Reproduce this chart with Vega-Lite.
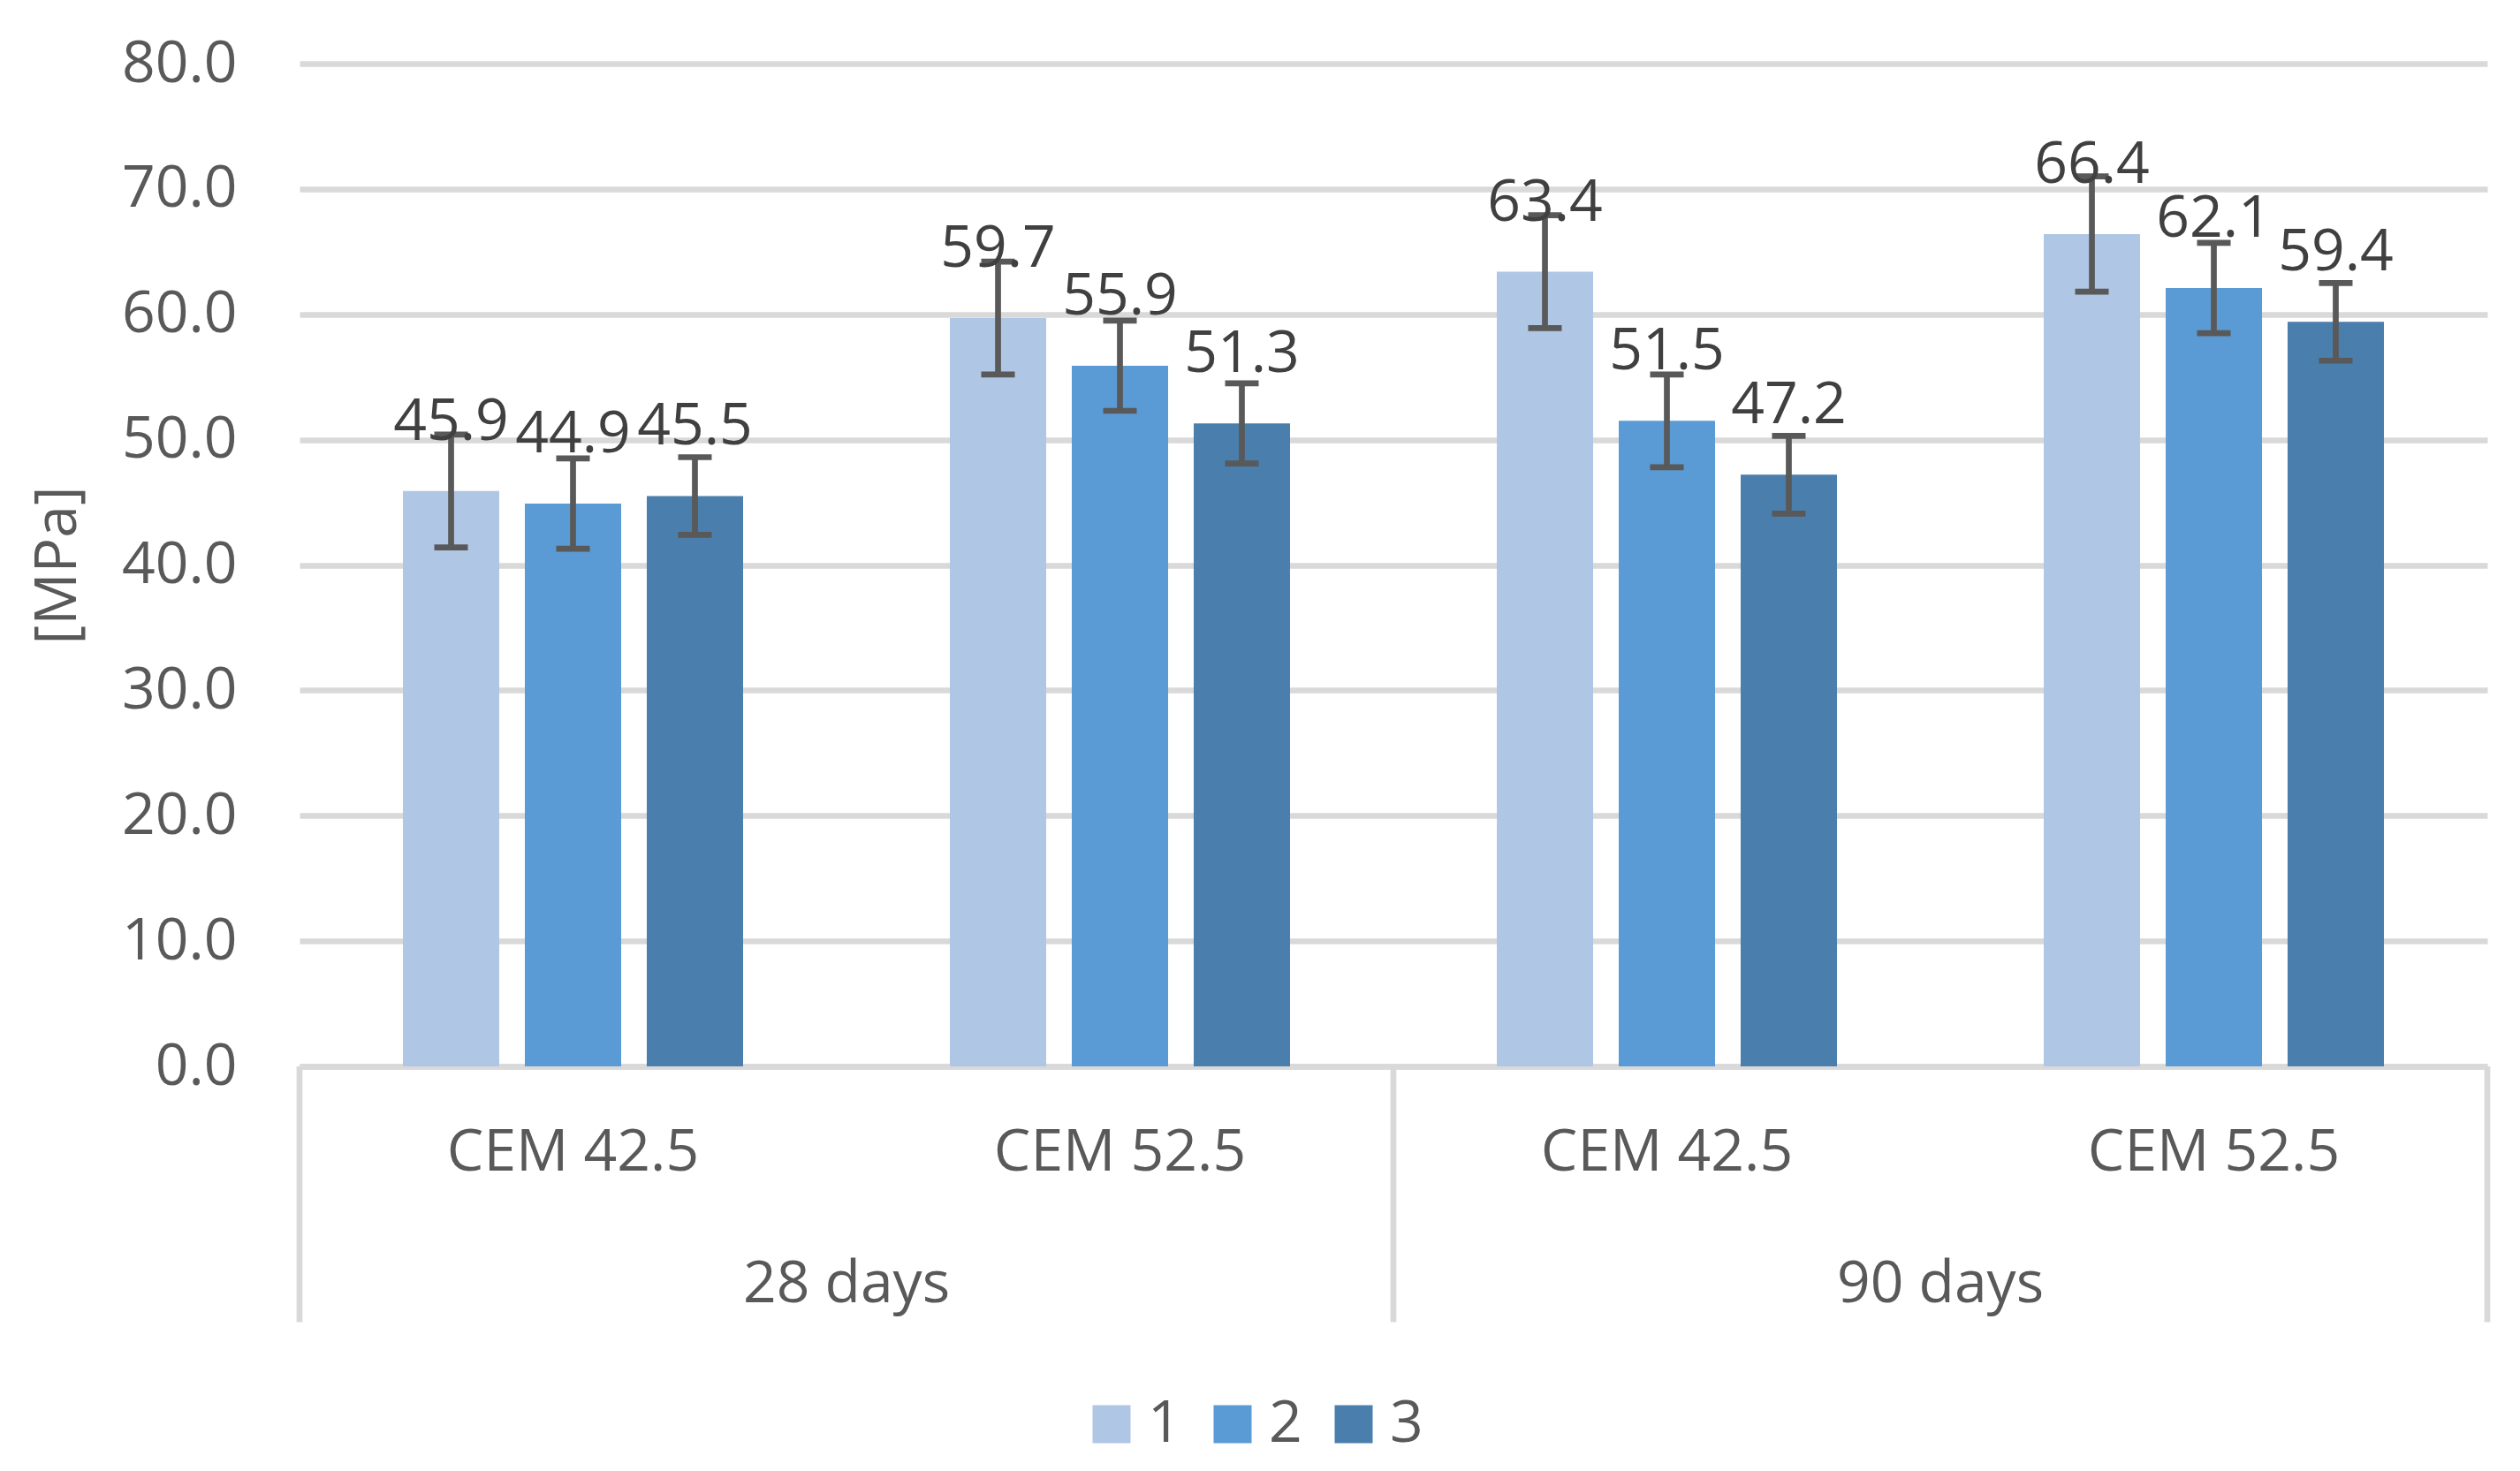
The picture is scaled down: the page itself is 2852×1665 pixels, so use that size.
{
  "$schema": "https://vega.github.io/schema/vega-lite/v6.json",
  "autosize": {"type": "none"},
  "padding": {"left": 339, "top": 72, "right": 37, "bottom": 458},
  "width": 2476,
  "height": 1135,
  "background": "white",
  "config": {
    "font": "Open Sans",
    "view": {"stroke": null}
  },
  "datasets": {
    "bars": [
      {"group": "28 days|CEM 42.5", "series": "1", "value": 45.9, "lo": 41.4, "hi": 50.4},
      {"group": "28 days|CEM 42.5", "series": "2", "value": 44.9, "lo": 41.3, "hi": 48.5},
      {"group": "28 days|CEM 42.5", "series": "3", "value": 45.5, "lo": 42.4, "hi": 48.6},
      {"group": "28 days|CEM 52.5", "series": "1", "value": 59.7, "lo": 55.2, "hi": 64.2},
      {"group": "28 days|CEM 52.5", "series": "2", "value": 55.9, "lo": 52.3, "hi": 59.5},
      {"group": "28 days|CEM 52.5", "series": "3", "value": 51.3, "lo": 48.1, "hi": 54.5},
      {"group": "90 days|CEM 42.5", "series": "1", "value": 63.4, "lo": 58.9, "hi": 67.9},
      {"group": "90 days|CEM 42.5", "series": "2", "value": 51.5, "lo": 47.8, "hi": 55.2},
      {"group": "90 days|CEM 42.5", "series": "3", "value": 47.2, "lo": 44.1, "hi": 50.3},
      {"group": "90 days|CEM 52.5", "series": "1", "value": 66.4, "lo": 61.8, "hi": 71.0},
      {"group": "90 days|CEM 52.5", "series": "2", "value": 62.1, "lo": 58.5, "hi": 65.7},
      {"group": "90 days|CEM 52.5", "series": "3", "value": 59.4, "lo": 56.3, "hi": 62.5}
    ]
  },
  "layer": [
    {
      "data": {"name": "bars"},
      "mark": {"type": "bar"},
      "encoding": {
        "x": {
          "field": "group", "type": "nominal",
          "scale": {"type": "band", "paddingInner": 0, "paddingOuter": 0,
            "domain": ["28 days|CEM 42.5", "28 days|CEM 52.5", "90 days|CEM 42.5", "90 days|CEM 52.5"]},
          "axis": {
            "title": null,
            "labelExpr": "split(datum.label, '|')[1]",
            "labelFontSize": 66, "labelColor": "#595959", "labelPadding": 65,
            "labelAngle": 0, "labelLimit": 1000,
            "ticks": false, "grid": false,
            "domain": true, "domainColor": "#d9d9d9", "domainWidth": 6.7
          }
        },
        "xOffset": {"field": "series", "type": "nominal", "scale": {"paddingInner": 0.21, "paddingOuter": 0.848}},
        "y": {
          "field": "value", "type": "quantitative",
          "scale": {"domain": [0, 80], "nice": false, "zero": true},
          "axis": {
            "title": "[MPa]",
            "titleFontSize": 66, "titleFontWeight": "normal", "titleColor": "#595959", "titlePadding": 40,
            "values": [0, 10, 20, 30, 40, 50, 60, 70, 80],
            "format": ".1f",
            "labelFontSize": 66, "labelColor": "#595959", "labelPadding": 71,
            "ticks": false, "domain": false,
            "grid": true, "gridColor": "#d9d9d9", "gridWidth": 6.5
          }
        },
        "color": {
          "field": "series", "type": "nominal",
          "scale": {"domain": ["1", "2", "3"], "range": ["#AFC6E5", "#5B9BD5", "#4A7EAD"]},
          "legend": {
            "orient": "none", "legendX": 886, "legendY": 1507, "direction": "horizontal",
            "title": null, "symbolType": "square", "symbolSize": 1849, "symbolStrokeWidth": 0,
            "symbolOpacity": 1,
            "labelFontSize": 66, "labelColor": "#595959", "labelOffset": 8, "columnPadding": 25,
            "padding": 0
          }
        }
      }
    },
    {
      "data": {"name": "bars"},
      "mark": {"type": "rule", "color": "#595959", "strokeWidth": 6.7},
      "encoding": {
        "x": {"field": "group", "type": "nominal"},
        "xOffset": {"field": "series", "type": "nominal"},
        "y": {"field": "lo", "type": "quantitative"},
        "y2": {"field": "hi"}
      }
    },
    {
      "data": {"name": "bars"},
      "mark": {"type": "tick", "color": "#595959", "size": 38, "thickness": 6.7, "orient": "horizontal", "opacity": 1},
      "encoding": {
        "x": {"field": "group", "type": "nominal"},
        "xOffset": {"field": "series", "type": "nominal"},
        "y": {"field": "lo", "type": "quantitative"}
      }
    },
    {
      "data": {"name": "bars"},
      "mark": {"type": "tick", "color": "#595959", "size": 38, "thickness": 6.7, "orient": "horizontal", "opacity": 1},
      "encoding": {
        "x": {"field": "group", "type": "nominal"},
        "xOffset": {"field": "series", "type": "nominal"},
        "y": {"field": "hi", "type": "quantitative"}
      }
    },
    {
      "data": {"name": "bars"},
      "mark": {"type": "text", "fontSize": 66, "color": "#404040", "baseline": "alphabetic", "align": "center", "dy": -58},
      "encoding": {
        "x": {"field": "group", "type": "nominal"},
        "xOffset": {"field": "series", "type": "nominal"},
        "y": {"field": "value", "type": "quantitative"},
        "text": {"field": "value", "type": "quantitative", "format": ".1f"}
      }
    },
    {
      "data": {"values": [{"group": "28 days|CEM 42.5"}, {"group": "90 days|CEM 42.5"}]},
      "mark": {"type": "rule", "color": "#d9d9d9", "strokeWidth": 6.7},
      "encoding": {
        "x": {"field": "group", "type": "nominal", "bandPosition": 0},
        "y": {"datum": 0, "type": "quantitative"},
        "y2": {"datum": -20.4}
      }
    },
    {
      "data": {"values": [{"group": "90 days|CEM 52.5"}]},
      "mark": {"type": "rule", "color": "#d9d9d9", "strokeWidth": 6.7},
      "encoding": {
        "x": {"field": "group", "type": "nominal", "bandPosition": 1},
        "y": {"datum": 0, "type": "quantitative"},
        "y2": {"datum": -20.4}
      }
    },
    {
      "data": {"values": [{"group": "28 days|CEM 42.5", "day": "28 days"}, {"group": "90 days|CEM 42.5", "day": "90 days"}]},
      "mark": {"type": "text", "fontSize": 66, "color": "#595959", "baseline": "alphabetic", "align": "center"},
      "encoding": {
        "x": {"field": "group", "type": "nominal", "bandPosition": 1},
        "y": {"datum": -18.8, "type": "quantitative"},
        "text": {"field": "day", "type": "nominal"}
      }
    }
  ]
}
